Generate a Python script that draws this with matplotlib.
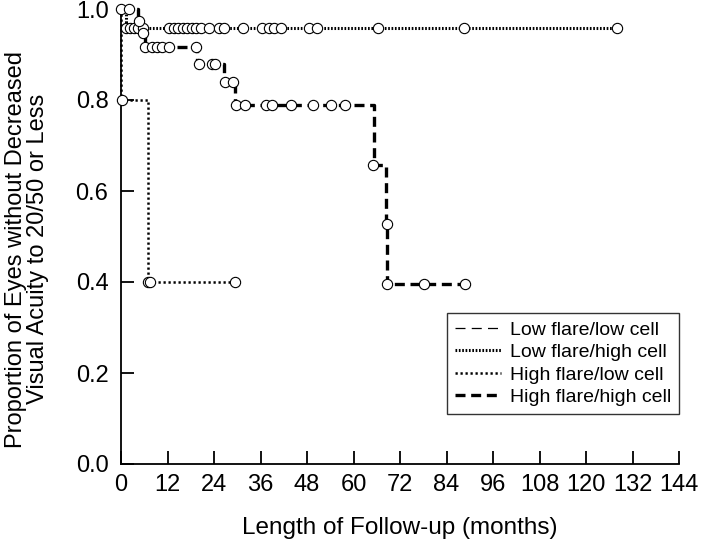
import matplotlib
matplotlib.use("Agg")
import matplotlib.pyplot as plt
from matplotlib.lines import Line2D

plt.rcParams['font.family'] = ['Liberation Sans', 'DejaVu Sans']

# ---------------- data ----------------
# Low flare / low cell
lflc_time = [0.0, 2.0]
lflc_surv = [1.0, 1.0]
lflc_cens_t = [0.0, 2.0]
lflc_cens_s = [1.0, 1.0]

# Low flare / high cell
lfhc_time = [0.0, 1.2, 128.0]
lfhc_surv = [1.0, 0.958, 0.958]
lfhc_cens_t = [1.3, 2.3, 3.4, 4.5, 5.8, 12.5, 13.8, 14.8, 15.9, 17.0, 18.2, 19.3,
               20.6, 22.7, 25.3, 26.6, 31.4, 36.5, 38.3, 39.5, 41.3, 48.5, 50.6,
               66.3, 88.5, 128.0]
lfhc_cens_s = [0.958] * len(lfhc_cens_t)

# High flare / low cell
hflc_time = [0.0, 0.0, 7.0, 29.4]
hflc_surv = [1.0, 0.8, 0.4, 0.4]
hflc_cens_t = [0.3, 7.0, 7.6, 29.4]
hflc_cens_s = [0.8, 0.4, 0.4, 0.4]

# High flare / high cell
hfhc_time = [0.0, 4.4, 5.5, 6.2, 19.5, 26.7, 29.5, 65.3, 68.5, 68.7, 88.8]
hfhc_surv = [1.0, 0.974, 0.948, 0.917, 0.88, 0.84, 0.79, 0.657, 0.527, 0.395, 0.395]
hfhc_cens_t = [4.6, 5.8, 6.3, 8.0, 9.3, 10.5, 12.4, 19.3, 20.0, 23.5, 24.2, 26.9,
               29.0, 29.7, 32.0, 37.4, 39.0, 43.9, 49.5, 54.2, 57.8, 65.0, 68.6,
               68.6, 78.2, 88.8]
hfhc_cens_s = [0.974, 0.948, 0.917, 0.917, 0.917, 0.917, 0.917, 0.917, 0.88, 0.88,
               0.88, 0.84, 0.84, 0.79, 0.79, 0.79, 0.79, 0.79, 0.79, 0.79, 0.79,
               0.657, 0.527, 0.395, 0.395, 0.395]

labels = ["Low flare/low cell", "Low flare/high cell",
          "High flare/low cell", "High flare/high cell"]
x_ticks = [0, 12, 24, 36, 48, 60, 72, 84, 96, 108, 120, 132, 144]
y_ticks = [0.0, 0.2, 0.4, 0.6, 0.8, 1.0]
y_ticklabels = ["0.0", "0.2", "0.4", "0.6", "0.8", "1.0"]

# ---------------- styles ----------------
styles = [
    dict(lw=0.9, ls=(0, (8, 5))),          # thin dashed
    dict(lw=2.2, ls=(0, (0.55, 0.55))),   # dense dotted
    dict(lw=1.8, ls=(0, (0.9, 1.1))),     # dotted
    dict(lw=2.4, ls=(0, (3.0, 1.7))),     # thick dashed
]

W, H = 705, 542
fig = plt.figure(figsize=(W / 100, H / 100), dpi=100)
L, R, B, T = 121, 679, 464, 9
ax = fig.add_axes([L / W, 1 - B / H, (R - L) / W, (B - T) / H])

series = [
    (lflc_time, lflc_surv, lflc_cens_t, lflc_cens_s),
    (lfhc_time, lfhc_surv, lfhc_cens_t, lfhc_cens_s),
    (hflc_time, hflc_surv, hflc_cens_t, hflc_cens_s),
    (hfhc_time, hfhc_surv, hfhc_cens_t, hfhc_cens_s),
]

for (t, s, ct, cs), st in zip(series, styles):
    ax.step(t, s, where='post', color='black', lw=st['lw'], linestyle=st['ls'],
            clip_on=False, zorder=2, dash_capstyle='butt', solid_capstyle='butt')
    ax.plot(ct, cs, linestyle='none', marker='o', ms=7.4, mfc='white',
            mec='black', mew=0.8, clip_on=False, zorder=3)

ax.set_xlim(0, 144)
ax.set_ylim(0, 1.0)
ax.set_xticks(x_ticks)
ax.set_xticklabels([str(v) for v in x_ticks])
ax.set_yticks(y_ticks)
ax.set_yticklabels(y_ticklabels)
for sp in ['top', 'right']:
    ax.spines[sp].set_visible(False)
for sp in ['left', 'bottom']:
    ax.spines[sp].set_linewidth(1.3)
ax.tick_params(axis='both', direction='in', length=9.5, width=1.3, labelsize=17)
ax.tick_params(axis='y', pad=9)
ax.tick_params(axis='x', pad=7)

ax.set_xlabel("Length of Follow-up (months)", fontsize=17.5, labelpad=15)
fig.text(27 / W, 1 - 249 / H,
         "Proportion of Eyes without Decreased\nVisual Acuity to 20/50 or Less",
         rotation=90, ha='center', va='center', fontsize=17,
         multialignment='center', linespacing=1.0)

handles = [Line2D([], [], color='black', lw=st['lw'], linestyle=st['ls'])
           for st in styles]
leg = ax.legend(handles, labels, loc='lower right',
                bbox_to_anchor=(R / W, 1 - 414 / H), bbox_transform=fig.transFigure,
                fontsize=14, frameon=True, fancybox=False, handlelength=2.4,
                handletextpad=0.45, labelspacing=0.25, borderpad=0.4,
                borderaxespad=0)
leg.get_frame().set_edgecolor('black')
leg.get_frame().set_linewidth(1.0)

fig.savefig("out.png", dpi=100)
